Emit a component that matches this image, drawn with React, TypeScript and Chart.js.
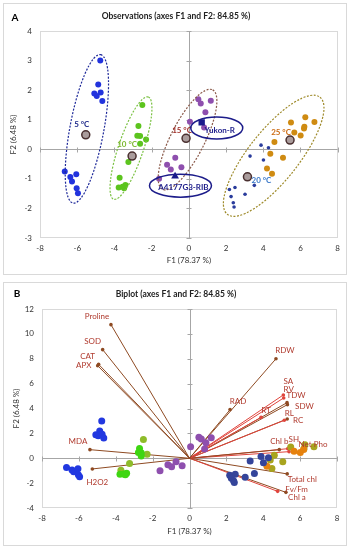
import React, { useEffect, useRef } from "react";
import { Chart, registerables } from "chart.js";
Chart.register(...registerables);

const FONT = "Lato, 'Liberation Sans', sans-serif";

// ---------- Observation scores (F1, F2) ----------
const t5X = [-4.76, -4.87, -5.08, -4.95, -4.74, -4.65, -6.67, -6.37, -6.28, -6.05, -6.03, -5.96];
const t5Y = [3.0, 2.19, 1.89, 1.8, 1.92, 1.63, -0.75, -0.94, -1.09, -0.84, -1.32, -1.49];
const t10aX = [-2.71, -2.77, -2.62, -2.62, -3.77, -3.56, -3.41, -3.48];
const t10aY = [0.79, 0.46, 0.45, 0.19, -1.29, -1.27, -1.21, -1.32];
const t10bX = [-2.5, -2.3, -3.25, -3.72];
const t10bY = [1.5, 0.33, -0.43, -0.96];
const t15X = [0.51, 0.64, 1.18, 0.89, 0.06, 0.82, -0.73, -1.17, -0.97, -0.4, -1.6];
const t15Y = [1.69, 1.55, 1.64, 1.25, 0.93, 0.74, -0.29, -0.52, -0.68, -0.61, -1.0];
const t20X = [3.88, 4.28, 3.29, 4.01, 3.52, 2.18, 2.48, 2.27, 3.02, 2.39, 2.43];
const t20Y = [0.14, 0.05, -0.23, -0.36, -1.22, -1.36, -1.29, -1.6, -1.52, -1.81, -1.95];
const t25aX = [5.67, 6.01, 6.19, 4.2];
const t25aY = [0.57, 0.47, 0.7, -0.65];
const t25bX = [5.49, 6.26, 6.75, 6.21, 4.6, 4.38, 5.06, 4.47];
const t25bY = [0.91, 1.08, 0.92, 0.76, 0.25, -0.15, -0.29, -0.83];

// group centroids
const centroidLabels = ["5 °C", "10 °C", "15 °C", "20 °C", "25 °C"];
const centroidX = [-5.54, -3.05, -0.15, 3.15, 5.44];
const centroidY = [0.49, -0.23, 0.37, -0.93, 0.31];

// genotypes
const yukonX = [0.69];
const yukonY = [0.91];
const ribX = [-0.74];
const ribY = [-0.91];

// group confidence ellipses: centre and major-axis tip (data units)
const ellCX = [-5.48, -3.11, -0.07, 4.56];
const ellCY = [0.69, 0.04, 0.33, -0.22];
const ellTX = [-4.74, -2.18, 1.28, 7.05];
const ellTY = [3.2, 1.77, 2.01, 1.76];

// ---------- Variable loadings (biplot) ----------
const varNames = ["Proline", "SOD", "CAT", "APX", "MDA", "H2O2", "RDW", "RAD", "RT", "SA", "RV", "TDW", "SDW", "RL", "RC", "Chl b", "SH", "Net Pho", "Total chl", "Fv/Fm", "Chl a"];
const varF1 = [-4.26, -4.71, -4.93, -4.98, -5.4, -5.27, 4.69, 2.2, 3.88, 5.09, 5.11, 5.29, 5.31, 5.14, 5.3, 4.87, 5.33, 5.4, 5.3, 4.78, 5.23];
const varF2 = [10.74, 8.73, 7.55, 7.44, 0.69, -0.86, 8.0, 3.91, 3.29, 5.09, 4.85, 4.47, 4.31, 3.05, 3.16, 0.69, 0.77, 0.53, -1.26, -2.66, -2.74];

// ---------- styles ----------
const BROWN = "#8e4a22";
const RED = "#e0443c";
const varIsRed = [0, 0, 0, 0, 0, 0, 0, 0, 1, 1, 1, 0, 0, 1, 0, 0, 1, 1, 0, 1, 0];
const varLabelDX = [-14, -10, -11, -14, -12, 5, 9, 8, 5, 5, 5, 9, 17, 5, 11, 0, 6, 24, 15, 19, 11];
const varLabelDY = [-8, -8, -8, 0, -8, 13, -8, -8, -7, -14, -9, -7, 2, -7, 1, -8, -9, -7, 6, -2, 5];
const centroidLabelColor = ["#1f2a8a", "#7cb82f", "#a0302a", "#3a78c8", "#cc6a10"];
const centroidLabelDX = [-4, -5, -4, 14, -9];
const centroidLabelDY = [-10, -12, -8, 4, -8];
const ellColor = ["#1f2a9a", "#7ac142", "#8b5a4a", "#9e8a2a"];
const ellMinor = [17, 12.5, 17, 25];

const pts = (xs: number[], ys: number[]) => xs.map((x, i) => ({ x, y: ys[i] }));

const makeScale = (min: number, max: number, step: number, text: string, pad: any, size: number, horizontal: boolean) => ({
  type: "linear",
  min,
  max,
  ticks: { stepSize: step, padding: horizontal ? 6 : 8, color: "#333", font: { family: FONT, size: 8 }, autoSkip: false, maxRotation: 0 },
  grid: { display: false, drawTicks: false },
  border: { display: false },
  title: { display: true, text, color: "#333", font: { family: FONT, size: 8 }, padding: pad },
  afterFit: (s: any) => {
    if (horizontal) s.height = size;
    else s.width = size;
  },
});

const framePlugin = {
  id: "frame",
  beforeDatasetsDraw(chart: any) {
    const { ctx, chartArea: a, scales } = chart;
    const xs = scales.x, ys = scales.y;
    ctx.save();
    ctx.lineWidth = 1;
    ctx.strokeStyle = "#d9d9d9";
    ctx.strokeRect(Math.round(a.left) + 0.5, Math.round(a.top) + 0.5, Math.round(a.right - a.left) - 1, Math.round(a.bottom - a.top) - 1);
    const x0 = Math.round(xs.getPixelForValue(0)) + 0.5;
    const y0 = Math.round(ys.getPixelForValue(0)) + 0.5;
    ctx.strokeStyle = "#a6a6a6";
    ctx.beginPath();
    ctx.moveTo(x0, a.top);
    ctx.lineTo(x0, a.bottom);
    ctx.moveTo(a.left, y0);
    ctx.lineTo(a.right, y0);
    ys.ticks.forEach((t: any) => {
      const py = Math.round(ys.getPixelForValue(t.value)) + 0.5;
      ctx.moveTo(x0 - 3, py);
      ctx.lineTo(x0 + 2, py);
    });
    xs.ticks.forEach((t: any) => {
      const px = Math.round(xs.getPixelForValue(t.value)) + 0.5;
      ctx.moveTo(px, y0 - 2);
      ctx.lineTo(px, y0 + 3);
    });
    ctx.stroke();
    ctx.restore();
  },
};

const obsAnnotPlugin = {
  id: "obsAnnot",
  afterDatasetsDraw(chart: any) {
    const { ctx, scales } = chart;
    const xs = scales.x, ys = scales.y;
    ctx.save();
    // group ellipses
    ellCX.forEach((cxv, i) => {
      const cx = xs.getPixelForValue(cxv), cy = ys.getPixelForValue(ellCY[i]);
      const tx = xs.getPixelForValue(ellTX[i]), ty = ys.getPixelForValue(ellTY[i]);
      const a = Math.hypot(tx - cx, ty - cy);
      const rot = Math.atan2(ty - cy, tx - cx);
      ctx.strokeStyle = ellColor[i];
      ctx.lineWidth = 1.2;
      ctx.setLineDash([2, 1.5]);
      ctx.beginPath();
      ctx.ellipse(cx, cy, a, ellMinor[i], rot, 0, Math.PI * 2);
      ctx.stroke();
    });
    ctx.setLineDash([]);
    // centroid labels
    ctx.font = `bold 8px ${FONT}`;
    ctx.textAlign = "center";
    ctx.textBaseline = "middle";
    centroidLabels.forEach((t, i) => {
      ctx.fillStyle = centroidLabelColor[i];
      ctx.fillText(t, xs.getPixelForValue(centroidX[i]) + centroidLabelDX[i], ys.getPixelForValue(centroidY[i]) + centroidLabelDY[i]);
    });
    // genotype call-outs
    const callout = (text: string, cxv: number, cyv: number, rx: number, ry: number) => {
      const cx = xs.getPixelForValue(cxv), cy = ys.getPixelForValue(cyv);
      ctx.strokeStyle = "#1c1c8a";
      ctx.lineWidth = 1.5;
      ctx.beginPath();
      ctx.ellipse(cx, cy, rx, ry, 0, 0, Math.PI * 2);
      ctx.stroke();
      ctx.fillStyle = "#1c1c8a";
      ctx.font = `bold 8px ${FONT}`;
      ctx.fillText(text, cx + 3, cy + 2);
    };
    callout("Yukon-R", 1.5, 0.72, 26, 11);
    callout("A4177G3-RIB", -0.45, -1.23, 31, 11.5);
    ctx.restore();
  },
};

const biplotLabelPlugin = {
  id: "biplotLabels",
  afterDatasetsDraw(chart: any) {
    const { ctx, scales } = chart;
    const xs = scales.x, ys = scales.y;
    ctx.save();
    ctx.font = `8px ${FONT}`;
    ctx.textAlign = "center";
    ctx.textBaseline = "middle";
    ctx.fillStyle = "#b03a2e";
    varNames.forEach((n, i) => {
      ctx.fillText(n, xs.getPixelForValue(varF1[i]) + varLabelDX[i], ys.getPixelForValue(varF2[i]) + varLabelDY[i]);
    });
    ctx.restore();
  },
};

const dot = (data: any, color: string, r: number, extra: any = {}) => ({
  data,
  backgroundColor: color,
  borderColor: color,
  borderWidth: 0,
  pointRadius: r,
  pointHoverRadius: r,
  ...extra,
});

export default function App() {
  const refA = useRef<HTMLCanvasElement>(null);
  const refB = useRef<HTMLCanvasElement>(null);

  useEffect(() => {
    const common = {
      responsive: false,
      animation: false,
      events: [],
      plugins: { legend: { display: false }, tooltip: { enabled: false } },
    };
    const chartA = new Chart(refA.current as any, {
      type: "scatter",
      data: {
        datasets: [
          dot(pts(centroidX, centroidY), "#aa9c9c", 4, { borderColor: "#4a3030", borderWidth: 1.5 }),
          dot(pts(yukonX, yukonY), "#1a1a8c", 4.5, { pointStyle: "rect" }),
          dot(pts(ribX, ribY), "#1a1a8c", 4.5, { pointStyle: "triangle" }),
          dot(pts(t5X, t5Y), "#2233dd", 3),
          dot(pts(t10aX, t10aY), "#5cc41e", 3),
          dot(pts(t10bX, t10bY), "#5cc41e", 3),
          dot(pts(t15X, t15Y), "#8e4fae", 3),
          dot(pts(t20X, t20Y), "#2a3c9c", 1.8),
          dot(pts(t25aX, t25aY), "#cf8b12", 3),
          dot(pts(t25bX, t25bY), "#cf8b12", 3),
        ],
      },
      options: {
        ...common,
        layout: { padding: { top: 27, right: 8, left: 0, bottom: 0 } },
        scales: {
          x: makeScale(-8, 8, 2, "F1 (78.37 %)", { top: 0, bottom: 9 }, 36, true),
          y: makeScale(-3, 4, 1, "F2 (6.48 %)", { top: 5, bottom: 0 }, 36, false),
        },
      } as any,
      plugins: [framePlugin, obsAnnotPlugin],
    } as any);

    const vectorSets = varNames.map((n, i) => {
      const c = varIsRed[i] ? RED : BROWN;
      return {
        label: n,
        data: [{ x: 0, y: 0 }, { x: varF1[i], y: varF2[i] }],
        showLine: true,
        borderColor: c,
        backgroundColor: c,
        borderWidth: 1,
        pointRadius: [0, 1.8],
        pointBorderWidth: 0,
      };
    });

    const chartB = new Chart(refB.current as any, {
      type: "scatter",
      data: {
        datasets: [
          dot(pts(t5X, t5Y), "#2238e0", 3.5),
          dot(pts(t10aX, t10aY), "#3fd612", 3.5),
          dot(pts(t10bX, t10bY), "#8ebc2a", 3.5),
          dot(pts(t15X, t15Y), "#8e4fae", 3.5),
          dot(pts(t20X, t20Y), "#34449a", 3.5),
          dot(pts(t25aX, t25aY), "#e6820e", 3.5),
          dot(pts(t25bX, t25bY), "#a8a41e", 3.5),
          ...vectorSets,
        ],
      },
      options: {
        ...common,
        layout: { padding: { top: 26, right: 9, left: 0, bottom: 0 } },
        scales: {
          x: makeScale(-8, 8, 2, "F1 (78.37 %)", { top: 0, bottom: 9 }, 37, true),
          y: makeScale(-4, 12, 2, "F2 (6.48 %)", { top: 8, bottom: 0 }, 38, false),
        },
      } as any,
      plugins: [framePlugin, biplotLabelPlugin],
    } as any);

    return () => {
      chartA.destroy();
      chartB.destroy();
    };
  }, []);

  const panel: React.CSSProperties = {
    position: "absolute",
    left: 3,
    width: 344,
    border: "1px solid #d9d9d9",
    boxSizing: "border-box",
    background: "#fff",
  };
  const letter: React.CSSProperties = {
    position: "absolute",
    font: `bold 10px ${FONT}`,
    color: "#000",
    transform: "translate(-50%, -50%)",
  };
  const title: React.CSSProperties = {
    position: "absolute",
    font: `bold 8.5px ${FONT}`,
    color: "#222",
    whiteSpace: "nowrap",
    transform: "translate(-50%, -50%)",
  };

  return (
    <div style={{ position: "absolute", left: 0, top: 0, width: 352, height: 550, background: "#fff" }}>
      <div style={{ ...panel, top: 3, height: 272 }}>
        <canvas ref={refA} width={342} height={270} style={{ position: "absolute", left: 0, top: 0 }} />
        <div style={{ ...letter, left: 11, top: 13 }}>A</div>
        <div style={{ ...title, left: 172, top: 12 }}>Observations (axes F1 and F2: 84.85 %)</div>
      </div>
      <div style={{ ...panel, top: 282, height: 264 }}>
        <canvas ref={refB} width={342} height={262} style={{ position: "absolute", left: 0, top: 0 }} />
        <div style={{ ...letter, left: 13, top: 10 }}>B</div>
        <div style={{ ...title, left: 172, top: 11 }}>Biplot (axes F1 and F2: 84.85 %)</div>
      </div>
    </div>
  );
}
